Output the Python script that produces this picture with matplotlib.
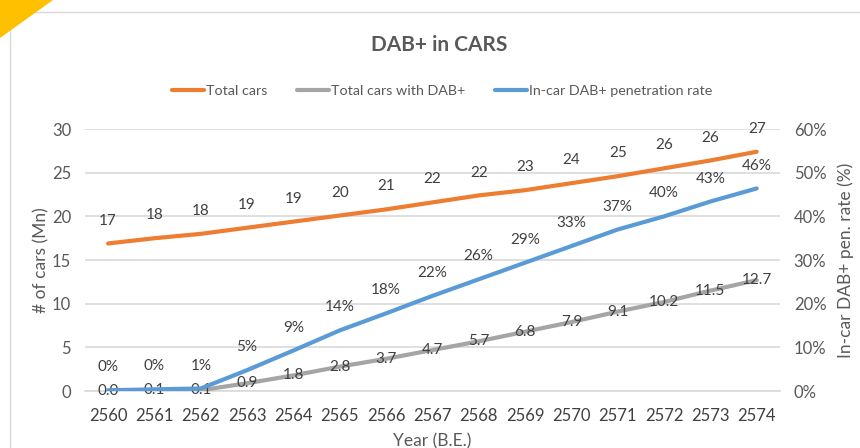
import numpy as np
import matplotlib
matplotlib.use('Agg')
import matplotlib.pyplot as plt
from matplotlib.patches import Polygon, Rectangle

plt.rcParams['font.family'] = ['Lato', 'DejaVu Sans']

years = ['2560', '2561', '2562', '2563', '2564', '2565', '2566', '2567',
         '2568', '2569', '2570', '2571', '2572', '2573', '2574']
total_cars = [16.9, 17.5, 18.0, 18.7, 19.4, 20.1, 20.8, 21.6, 22.4, 23.0,
              23.8, 24.6, 25.5, 26.4, 27.4]
total_labels = ['17', '18', '18', '19', '19', '20', '21', '22', '22', '23',
                '24', '25', '26', '26', '27']
dab_cars = [0.0, 0.1, 0.1, 0.9, 1.8, 2.8, 3.7, 4.7, 5.7, 6.8, 7.9, 9.1,
            10.2, 11.5, 12.7]
pen_rate = [0.2, 0.4, 0.6, 4.8, 9.3, 13.9, 17.8, 21.8, 25.6, 29.4, 33.2,
            37.0, 40.0, 43.4, 46.4]
pen_labels = ['0%', '0%', '1%', '5%', '9%', '14%', '18%', '22%', '26%',
              '29%', '33%', '37%', '40%', '43%', '46%']

orange = '#ED7D31'
grey = '#A5A5A5'
blue = '#5B9BD5'
txt = '#595959'

fig = plt.figure(figsize=(8.6, 4.48), dpi=100)
ax = fig.add_axes([0.0988, 0.127, 0.808, 0.585])
ax2 = ax.twinx()

x = np.arange(len(years))
ax.axhline(0, color='#D9D9D9', lw=1.2, clip_on=False, zorder=0)
l1, = ax.plot(x, total_cars, color=orange, lw=3, solid_capstyle='round', label='Total cars')
l2, = ax.plot(x, dab_cars, color=grey, lw=3, solid_capstyle='round', label='Total cars with DAB+')
l3, = ax2.plot(x, pen_rate, color=blue, lw=3, solid_capstyle='round', label='In-car DAB+ penetration rate')

for xi, v, s in zip(x, total_cars, total_labels):
    ax.annotate(s, (xi, v), xytext=(0, 16.5), textcoords='offset points',
                ha='center', va='center', fontsize=11, color='#404040')
for xi, v in zip(x, dab_cars):
    ax.annotate('%.1f' % v, (xi, v), xytext=(0, 0), textcoords='offset points',
                ha='center', va='center', fontsize=11, color='#404040')
for xi, v, s in zip(x, pen_rate, pen_labels):
    ax2.annotate(s, (xi, v), xytext=(0, 16.5), textcoords='offset points',
                 ha='center', va='center', fontsize=11, color='#404040')

ax.set_xlim(-0.5, len(years) - 0.5)
ax.set_ylim(0, 30)
ax2.set_ylim(0, 60)
ax.set_yticks(range(0, 31, 5))
ax2.set_yticks(range(0, 61, 10))
ax2.set_yticklabels(['%d%%' % t for t in range(0, 61, 10)])
ax.set_xticks(x)
ax.set_xticklabels(years)
ax.grid(axis='y', color='#D9D9D9', lw=1.2)
ax.set_axisbelow(True)
for a in (ax, ax2):
    for sp in a.spines.values():
        sp.set_visible(False)
ax.tick_params(axis='y', length=0, pad=10, labelsize=12, labelcolor=txt)
ax.tick_params(axis='x', length=0, pad=12, labelsize=12, labelcolor='#404040')
ax2.tick_params(axis='y', length=0, pad=10, labelsize=12, labelcolor=txt)

ax.set_ylabel('# of cars (Mn)', fontsize=12.5, color=txt, labelpad=2)
ax2.set_ylabel('In-car DAB+ pen. rate (%)', fontsize=12.5, color=txt, labelpad=8)
ax.set_xlabel('Year (B.E.)', fontsize=12.5, color=txt, labelpad=7)

fig.text(0.511, 0.9, 'DAB+ in CARS', ha='center', va='center', fontsize=15,
         fontweight='bold', color=txt)
fig.legend(handles=[l1, l2, l3], loc='center', bbox_to_anchor=(0.514, 0.797),
           ncol=3, frameon=False, fontsize=10.3, labelcolor=txt,
           handlelength=2.2, handletextpad=0.15, columnspacing=2.1)

# chart frame and corner decoration
fig.patches.append(Rectangle((10 / 860, -0.1), 1.0, 1 - 12 / 448 + 0.1,
                             transform=fig.transFigure, fill=False,
                             edgecolor='#D9D9D9', lw=1))
fig.patches.append(Polygon([(0, 1), (53 / 860, 1), (0, 1 - 38 / 448)],
                           closed=True, transform=fig.transFigure,
                           facecolor='#FFC000', edgecolor='none'))

fig.savefig('out.png', dpi=100)
